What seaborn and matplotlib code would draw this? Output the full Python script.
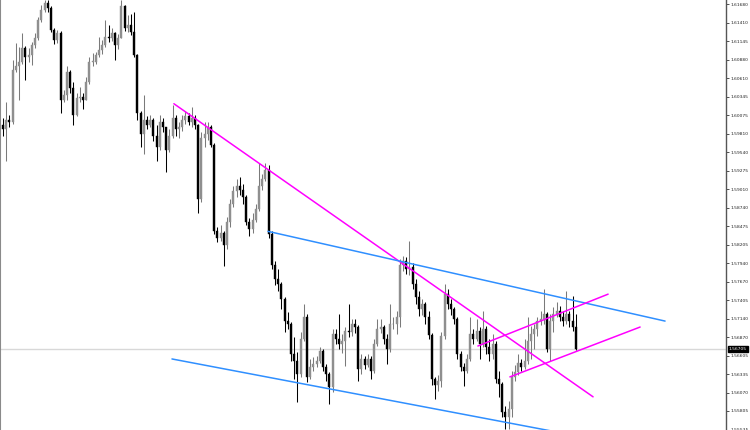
import matplotlib
matplotlib.use("Agg")
import matplotlib.pyplot as plt
import seaborn as sns
import pandas as pd
import numpy as np

# ---- data (GBP/USD-style candles) ----
first_open = 1.5994
closes = [
    1.5987, 1.6001, 1.5998, 1.6073, 1.6079, 1.6085, 1.6105, 1.6092, 1.6095, 1.6109,
    1.6119, 1.6145, 1.6160, 1.6170, 1.6162, 1.6131, 1.6116, 1.6126, 1.6030, 1.6037,
    1.6070, 1.6047, 1.6008, 1.6033, 1.6034, 1.6030, 1.6056, 1.6085, 1.6085, 1.6095,
    1.6102, 1.6109, 1.6121, 1.6119, 1.6126, 1.6109, 1.6119, 1.6165, 1.6134, 1.6138,
    1.6128, 1.6095, 1.6011, 1.5980, 1.6001, 1.5994, 1.6001, 1.5977, 1.5961, 1.5998,
    1.5990, 1.5958, 1.5978, 1.6004, 1.5987, 1.5990, 1.6001, 1.6007, 1.5998, 1.6004,
    1.5994, 1.5886, 1.5975, 1.5980, 1.5990, 1.5965, 1.5840, 1.5831, 1.5837, 1.5820,
    1.5854, 1.5879, 1.5898, 1.5905, 1.5900, 1.5889, 1.5854, 1.5843, 1.5857, 1.5872,
    1.5905, 1.5915, 1.5929, 1.5836, 1.5792, 1.5771, 1.5764, 1.5742, 1.5710, 1.5706,
    1.5663, 1.5653, 1.5634, 1.5684, 1.5716, 1.5630, 1.5644, 1.5648, 1.5653, 1.5667,
    1.5644, 1.5634, 1.5615, 1.5692, 1.5684, 1.5677, 1.5682, 1.5696, 1.5695, 1.5706,
    1.5702, 1.5641, 1.5656, 1.5647, 1.5656, 1.5638, 1.5677, 1.5699, 1.5702, 1.5684,
    1.5670, 1.5706, 1.5706, 1.5716, 1.5792, 1.5797, 1.5785, 1.5788, 1.5764, 1.5745,
    1.5728, 1.5735, 1.5716, 1.5690, 1.5627, 1.5618, 1.5624, 1.5689, 1.5749, 1.5735,
    1.5728, 1.5713, 1.5663, 1.5644, 1.5638, 1.5656, 1.5692, 1.5684, 1.5696, 1.5677,
    1.5699, 1.5673, 1.5663, 1.5677, 1.5627, 1.5620, 1.5579, 1.5572, 1.5584, 1.5630,
    1.5637, 1.5650, 1.5644, 1.5653, 1.5682, 1.5692, 1.5699, 1.5710, 1.5713, 1.5720,
    1.5670, 1.5710, 1.5720, 1.5725, 1.5716, 1.5710, 1.5720, 1.5710, 1.5702, 1.56705,
]
highs = [
    1.6004, 1.6026, 1.6008, 1.6088, 1.6112, 1.6106, 1.6126, 1.6108, 1.6105, 1.6114,
    1.6127, 1.6150, 1.6167, 1.6174, 1.6174, 1.6165, 1.6134, 1.6131, 1.6129, 1.6044,
    1.6078, 1.6073, 1.6056, 1.6040, 1.6049, 1.6039, 1.6063, 1.6091, 1.6098, 1.6099,
    1.6121, 1.6116, 1.6145, 1.6138, 1.6134, 1.6128, 1.6125, 1.6174, 1.6167, 1.6152,
    1.6154, 1.6157, 1.6096, 1.6014, 1.6037, 1.6006, 1.6008, 1.6004, 1.5994, 1.6008,
    1.6004, 1.5991, 1.5987, 1.6023, 1.6008, 1.5998, 1.6008, 1.6014, 1.6011, 1.6020,
    1.6008, 1.5995, 1.5984, 1.5998, 1.5998, 1.5993, 1.5968, 1.5846, 1.5849, 1.5840,
    1.5860, 1.5886, 1.5906, 1.5915, 1.5918, 1.5908, 1.5893, 1.5859, 1.5866, 1.5879,
    1.5939, 1.5922, 1.5939, 1.5935, 1.5840, 1.5797, 1.5785, 1.5767, 1.5745, 1.5723,
    1.5709, 1.5687, 1.5666, 1.5695, 1.5735, 1.5720, 1.5656, 1.5659, 1.5660, 1.5673,
    1.5670, 1.5648, 1.5637, 1.5699, 1.5699, 1.5720, 1.5692, 1.5702, 1.5735, 1.5713,
    1.5713, 1.5705, 1.5663, 1.5660, 1.5663, 1.5660, 1.5684, 1.5713, 1.5713, 1.5705,
    1.5692, 1.5735, 1.5716, 1.5725, 1.5800, 1.5805, 1.5803, 1.5826, 1.5794, 1.5771,
    1.5754, 1.5742, 1.5738, 1.5725, 1.5693, 1.5630, 1.5633, 1.5695, 1.5764, 1.5756,
    1.5742, 1.5731, 1.5716, 1.5667, 1.5650, 1.5663, 1.5716, 1.5699, 1.5713, 1.5702,
    1.5725, 1.5703, 1.5684, 1.5692, 1.5682, 1.5638, 1.5623, 1.5587, 1.5595, 1.5638,
    1.5647, 1.5663, 1.5656, 1.5684, 1.5716, 1.5703, 1.5706, 1.5716, 1.5725, 1.5756,
    1.5723, 1.5720, 1.5731, 1.5738, 1.5732, 1.5725, 1.5754, 1.5725, 1.5746, 1.5720,
]
lows = [
    1.5977, 1.5941, 1.5990, 1.5995, 1.6070, 1.6030, 1.6082, 1.6059, 1.6085, 1.6080,
    1.6105, 1.6116, 1.6142, 1.6157, 1.6157, 1.6128, 1.6111, 1.6112, 1.6011, 1.6026,
    1.6030, 1.6040, 1.5994, 1.6006, 1.6026, 1.6016, 1.6029, 1.6053, 1.6079, 1.6082,
    1.6091, 1.6096, 1.6106, 1.6114, 1.6115, 1.6088, 1.6103, 1.6119, 1.6129, 1.6128,
    1.6124, 1.6091, 1.6001, 1.5961, 1.5951, 1.5987, 1.5990, 1.5970, 1.5941, 1.5958,
    1.5984, 1.5926, 1.5955, 1.5975, 1.5978, 1.5975, 1.5985, 1.5995, 1.5993, 1.5990,
    1.5988, 1.5867, 1.5882, 1.5962, 1.5972, 1.5961, 1.5836, 1.5824, 1.5826, 1.5790,
    1.5814, 1.5846, 1.5875, 1.5890, 1.5893, 1.5879, 1.5849, 1.5833, 1.5837, 1.5853,
    1.5869, 1.5900, 1.5912, 1.5831, 1.5785, 1.5762, 1.5754, 1.5728, 1.5695, 1.5699,
    1.5653, 1.5627, 1.5594, 1.5630, 1.5682, 1.5623, 1.5627, 1.5638, 1.5644, 1.5650,
    1.5638, 1.5624, 1.5591, 1.5608, 1.5677, 1.5670, 1.5664, 1.5646, 1.5687, 1.5689,
    1.5693, 1.5624, 1.5634, 1.5641, 1.5644, 1.5627, 1.5635, 1.5674, 1.5693, 1.5677,
    1.5648, 1.5666, 1.5699, 1.5692, 1.5702, 1.5782, 1.5778, 1.5777, 1.5756, 1.5735,
    1.5718, 1.5719, 1.5706, 1.5684, 1.5618, 1.5598, 1.5610, 1.5615, 1.5684, 1.5728,
    1.5719, 1.5706, 1.5656, 1.5638, 1.5617, 1.5635, 1.5653, 1.5677, 1.5682, 1.5656,
    1.5673, 1.5663, 1.5653, 1.5656, 1.5621, 1.5601, 1.5572, 1.5555, 1.5555, 1.5572,
    1.5624, 1.5633, 1.5638, 1.5641, 1.5648, 1.5656, 1.5670, 1.5689, 1.5705, 1.5706,
    1.5666, 1.5653, 1.5695, 1.5716, 1.5710, 1.5703, 1.5706, 1.5702, 1.5696, 1.5668,
]
opens = [first_open] + closes[:-1]   # continuous FX series: open = previous close

current_price = 1.56705
price_ticks = [1.61680, 1.61410, 1.61145, 1.60880, 1.60610, 1.60345, 1.60075,
               1.59810, 1.59540, 1.59275, 1.59010, 1.58740, 1.58475, 1.58205,
               1.57940, 1.57670, 1.57405, 1.57140, 1.56870, 1.56605, 1.56335,
               1.56070, 1.55805, 1.55535]

# trend lines: (name, start bar, start price, end bar, end price)
trend_names = ["down", "chan_top", "chan_bot", "up_top", "up_bot"]
trend_x0 = [53.4, 82.8, 52.8, 148.4, 158.4]
trend_p0 = [1.60242, 1.58399, 1.56556, 1.56743, 1.56297]
trend_x1 = [184.4, 206.9, 184.1, 189.1, 199.1]
trend_p1 = [1.56009, 1.57103, 1.55404, 1.57492, 1.57017]
trend_colors = {"down": "#ff00ff", "chan_top": "#2f8fff", "chan_bot": "#2f8fff",
                "up_top": "#ff00ff", "up_bot": "#ff00ff"}

# ---- figure ----
sns.set_theme(style="white")
plt.rcParams["font.family"] = ["DejaVu Sans"]

W, H = 750, 430
fig = plt.figure(figsize=(W / 100, H / 100), dpi=100)
ax = fig.add_axes([0, 0, 726 / W, 1])

df = pd.DataFrame({"bar": np.arange(len(closes)), "o": opens, "h": highs,
                   "l": lows, "c": closes})
bull = df["c"] >= df["o"]
bull_col, bear_col = "#8f8f8f", "#000000"

# current price line
ax.axhline(current_price, color="#d8d8d8", lw=1.0, zorder=0)

# wicks
for mask, col in ((bull, "#7a7a7a"), (~bull, bear_col)):
    sub = df[mask]
    lo = np.minimum(sub["l"], np.minimum(sub["o"], sub["c"]))
    hi = np.maximum(sub["h"], np.maximum(sub["o"], sub["c"]))
    ax.vlines(sub["bar"], lo, hi, color=col, lw=0.75, zorder=2)

# bodies
for mask, col in ((bull, bull_col), (~bull, bear_col)):
    sub = df[mask]
    ht = (sub["c"] - sub["o"]).abs().clip(lower=0.00006)
    bot = np.minimum(sub["o"], sub["c"])
    ax.bar(sub["bar"], ht, bottom=bot, width=0.6, color=col,
           edgecolor=col, lw=0.3, zorder=3)

# trend lines through seaborn
rows = []
for n, a0, b0, a1, b1 in zip(trend_names, trend_x0, trend_p0, trend_x1, trend_p1):
    rows.append({"line": n, "bar": a0, "price": b0})
    rows.append({"line": n, "bar": a1, "price": b1})
tl = pd.DataFrame(rows)
sns.lineplot(data=tl, x="bar", y="price", hue="line", palette=trend_colors,
             units="line", estimator=None, sort=False, legend=False,
             lw=1.1, ax=ax, zorder=4)

# axes styling
ax.set_xlim(-0.94, 225.94)
ax.set_ylim(1.5553, 1.6174)
ax.set_xlabel("")
ax.set_ylabel("")
ax.set_xticks([])
ax.yaxis.tick_right()
ax.set_yticks(price_ticks)
ax.set_yticklabels([f"{v:.5f}" for v in price_ticks])
ax.tick_params(axis="y", direction="out", length=2.5, width=0.6, color="#333333",
               labelsize=3.2, labelcolor="#222222", pad=1.0, right=True)
for s in ("top", "bottom"):
    ax.spines[s].set_visible(False)
ax.spines["right"].set_color("#555555")
ax.spines["right"].set_linewidth(1.0)
ax.spines["left"].set_color("#8a8a8a")
ax.spines["left"].set_linewidth(1.5)
ax.set_facecolor("white")

# current price tag on the scale
ax.text(1.0035, current_price, f"{current_price:.5f}", transform=ax.get_yaxis_transform(),
        ha="left", va="center", fontsize=3.2, color="white", zorder=10,
        bbox=dict(boxstyle="square,pad=0.2", fc="black", ec="black"), clip_on=False)

fig.savefig("out.png", dpi=100, facecolor="white")
